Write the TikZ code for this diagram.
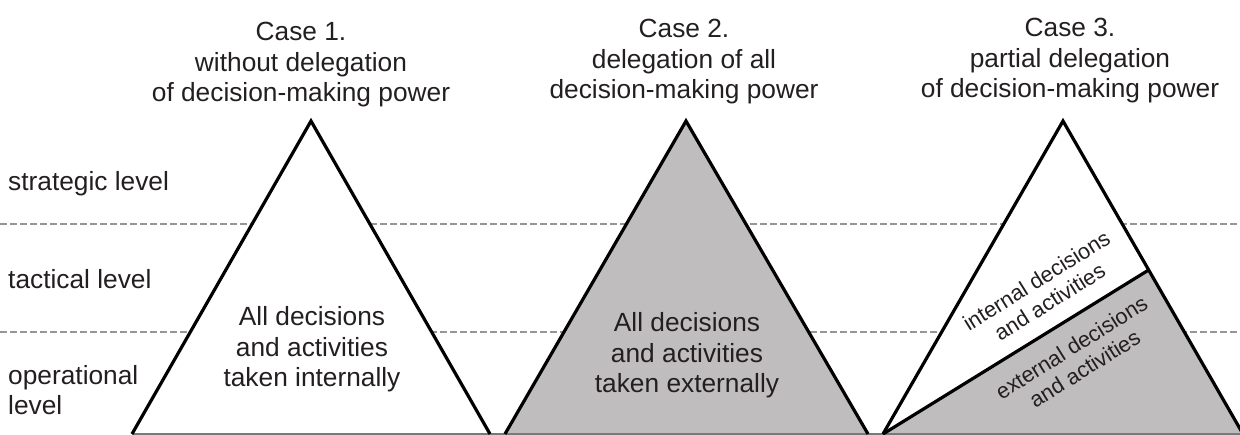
\documentclass[tikz,border=0pt]{standalone}
\usepackage{fontspec}
\setmainfont{Liberation Sans}
\usetikzlibrary{calc}
\definecolor{ink}{HTML}{231F20}
\definecolor{fillgray}{RGB}{191,189,190}
\definecolor{dashgray}{RGB}{150,150,150}
\definecolor{basegray}{RGB}{120,120,120}
\begin{document}
\begin{tikzpicture}[x=1pt,y=-1pt,
  levelline/.style={draw=dashgray, line width=1.8pt, dash pattern=on 7pt off 3pt},
  side/.style={draw=black, line width=3.2pt, line join=miter, line cap=butt},
  groundline/.style={draw=basegray, line width=1.4pt},
  bigtext/.style={font=\fontsize{26.3}{30.7}\selectfont, text=ink, align=center, inner sep=0pt, anchor=base},
  tilttext/.style={font=\fontsize{21.8}{25}\selectfont, text=ink, align=center, inner sep=0pt, rotate=32},
  lvltext/.style={font=\fontsize{26.3}{30}\selectfont, text=ink, align=left, inner sep=0pt, anchor=base west}]
\useasboundingbox (0,0) rectangle (1240,435);

% triangle corners
\coordinate (a1) at (311,121);  \coordinate (l1) at (132,434);  \coordinate (r1) at (490,434);
\coordinate (a2) at (686,121);  \coordinate (l2) at (505,434);  \coordinate (r2) at (868,434);
\coordinate (a3) at (1063,121); \coordinate (l3) at (883,434);  \coordinate (r3) at (1243,434);
\coordinate (s3) at ($(a3)!0.476!(r3)$);

% level separators
\coordinate (d1w) at (0,224);  \coordinate (d1e) at (1240,224);
\coordinate (d2w) at (0,332);  \coordinate (d2e) at (1240,332);
\draw[levelline] (d1w) -- (d1e);
\draw[levelline] (d2w) -- (d2e);

% fills
\fill[white] (l1) -- (a1) -- (r1) -- cycle;
\fill[fillgray] (l2) -- (a2) -- (r2) -- cycle;
\fill[white] (l3) -- (a3) -- (r3) -- cycle;
\fill[fillgray] (l3) -- (s3) -- (r3) -- cycle;

% ground line
\coordinate (g0) at (132,434); \coordinate (g1) at (1240,434);
\draw[groundline] (g0) -- (g1);

% triangle sides
\draw[side] (l1) -- (a1) -- (r1);
\draw[side] (l2) -- (a2) -- (r2);
\draw[side] (l3) -- (a3) -- (r3);
\draw[side] (l3) -- (s3);

% level names
\node[lvltext] (strat) at (8,191) {strategic level};
\node[lvltext] (tact) at (8,289) {tactical level};
\node[lvltext] (oper) at (8,415) {operational\\level};

% case titles (anchored at the last baseline)
\node[bigtext] (c1) at (301,102) {Case 1.\\without delegation\\of decision-making power};
\node[bigtext] (c2) at (684,99) {Case 2.\\delegation of all\\decision-making power};
\node[bigtext] (c3) at (1070,98) {Case 3.\\partial delegation\\of decision-making power};

% triangle contents
\node[bigtext] (t1) at (312,387) {All decisions\\and activities\\taken internally};
\node[bigtext] (t2) at (687,393) {All decisions\\and activities\\taken externally};
\node[tilttext] (t3a) at (1043,291) {internal decisions\\and activities};
\node[tilttext] (t3b) at (1078,358) {external decisions\\and activities};
\end{tikzpicture}
\end{document}
